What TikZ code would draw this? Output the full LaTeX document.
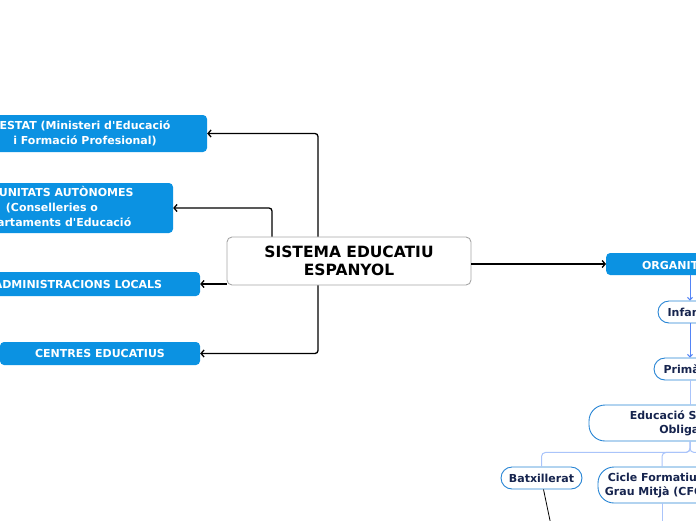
\documentclass[tikz,border=0pt]{standalone}
\usepackage{fontspec}
\setmainfont{DejaVu Sans}
\usetikzlibrary{arrows.meta, positioning}
\definecolor{mapblue}{RGB}{11,146,226}
\definecolor{pillblue}{RGB}{38,132,212}
\definecolor{pilltext}{RGB}{22,36,78}
\definecolor{linkblue}{RGB}{84,132,246}
\definecolor{lightlink}{RGB}{170,196,250}
\newcommand{\apo}{\textquotesingle}
\tikzstyle{topic}  = [rectangle, rounded corners=4pt, fill=mapblue, text=white,
                      align=center, inner sep=0pt,
                      font=\bfseries\fontsize{11}{15}\selectfont]
\tikzstyle{root}   = [rectangle, rounded corners=5pt, draw=gray!70, fill=white,
                      line width=0.9pt, align=center, inner sep=0pt,
                      font=\bfseries\fontsize{15.5}{18}\selectfont]
\tikzstyle{pill}   = [rectangle, rounded corners=11pt, draw=pillblue, fill=white,
                      text=pilltext, line width=0.9pt, align=center, inner sep=0pt,
                      font=\bfseries\fontsize{11}{14}\selectfont]
\tikzstyle{arrow}  = [-{Straight Barb[length=3pt,width=7pt]}, line width=1.3pt,
                      rounded corners=3pt]
\tikzstyle{barrow} = [-{Straight Barb[length=2.5pt,width=5pt]}, draw=linkblue,
                      line width=1pt]
\tikzstyle{bline}  = [draw=lightlink, line width=1pt, rounded corners=4pt]

\begin{document}
\begin{tikzpicture}[x=1pt, y=-1pt]
  \useasboundingbox (0,0) rectangle (696,520);
  \clip (0,0) rectangle (696,520);

  \node[root, minimum width=244pt, minimum height=48pt] (sis) at (349,261)
    {SISTEMA EDUCATIU\\ESPANYOL};

  \node[topic, minimum width=244pt, minimum height=37pt] (estat) at (85,133.5)
    {ESTAT (Ministeri d\apo Educació\\i Formació Profesional)};
  \node[topic, minimum width=242pt, minimum height=50pt] (comun) at (52,208)
    {COMUNITATS AUTÒNOMES\\(Conselleries o\\Departaments d\apo Educació};
  \node[topic, minimum width=244pt, minimum height=24pt] (locals) at (78,284)
    {ADMINISTRACIONS LOCALS};
  \node[topic, minimum width=200pt, minimum height=23pt] (centres) at (100,353.5)
    {CENTRES EDUCATIUS};

  \node[topic, minimum width=166pt, minimum height=22pt, anchor=west] (org)
    at (606,264) {ORGANITZACIÓ};

  \node[pill, minimum width=64pt, minimum height=22pt] (inf) at (690,312)
    {Infantil};
  \node[pill, minimum width=72pt, minimum height=22pt] (prim) at (690,369)
    {Primària};
  \node[pill, rounded corners=16pt, minimum width=210pt, minimum height=36pt]
    (eso) at (694,423) {Educació Secundària\\Obligatòria};
  \node[pill, minimum width=81pt, minimum height=22pt] (batx) at (541.5,478)
    {Batxillerat};
  \node[pill, rounded corners=16pt, minimum width=128pt, minimum height=36pt]
    (cicle) at (662,485) {Cicle Formatiu de\\Grau Mitjà (CFGM)};

  \coordinate (more) at (760,467);
  \coordinate (cicledown) at (662,540);
  \coordinate (batxdown) at (552,530);

  \draw[arrow] ([xshift=-31pt]sis.north) |- (estat.east);
  \draw[arrow] ([xshift=-77pt]sis.north) |- (comun.east);
  \draw[arrow] (sis.west |- locals.east) -- (locals.east);
  \draw[arrow] ([xshift=-31pt]sis.south) |- (centres.east);
  \draw[arrow] (sis.east |- org.west) -- (org.west);

  % stages
  \draw[barrow] (org.south -| inf.north) -- (inf.north);
  \draw[barrow] (inf.south) -- (prim.north);
  \draw[bline] (prim.south) -- (prim.south |- eso.north);
  \draw[bline] (eso.south -| prim.south) -- ++(0,11) -| (batx.north);
  \draw[bline] (eso.south -| prim.south) -- ++(0,11) -| (cicle.north);
  \draw[bline] (eso.south -| prim.south) -- ++(0,11) -| (more);
  \draw[bline] (cicle.south) -- (cicledown);
  \draw[line width=0.8pt] ([xshift=2pt]batx.south) -- (batxdown);
\end{tikzpicture}
\end{document}
